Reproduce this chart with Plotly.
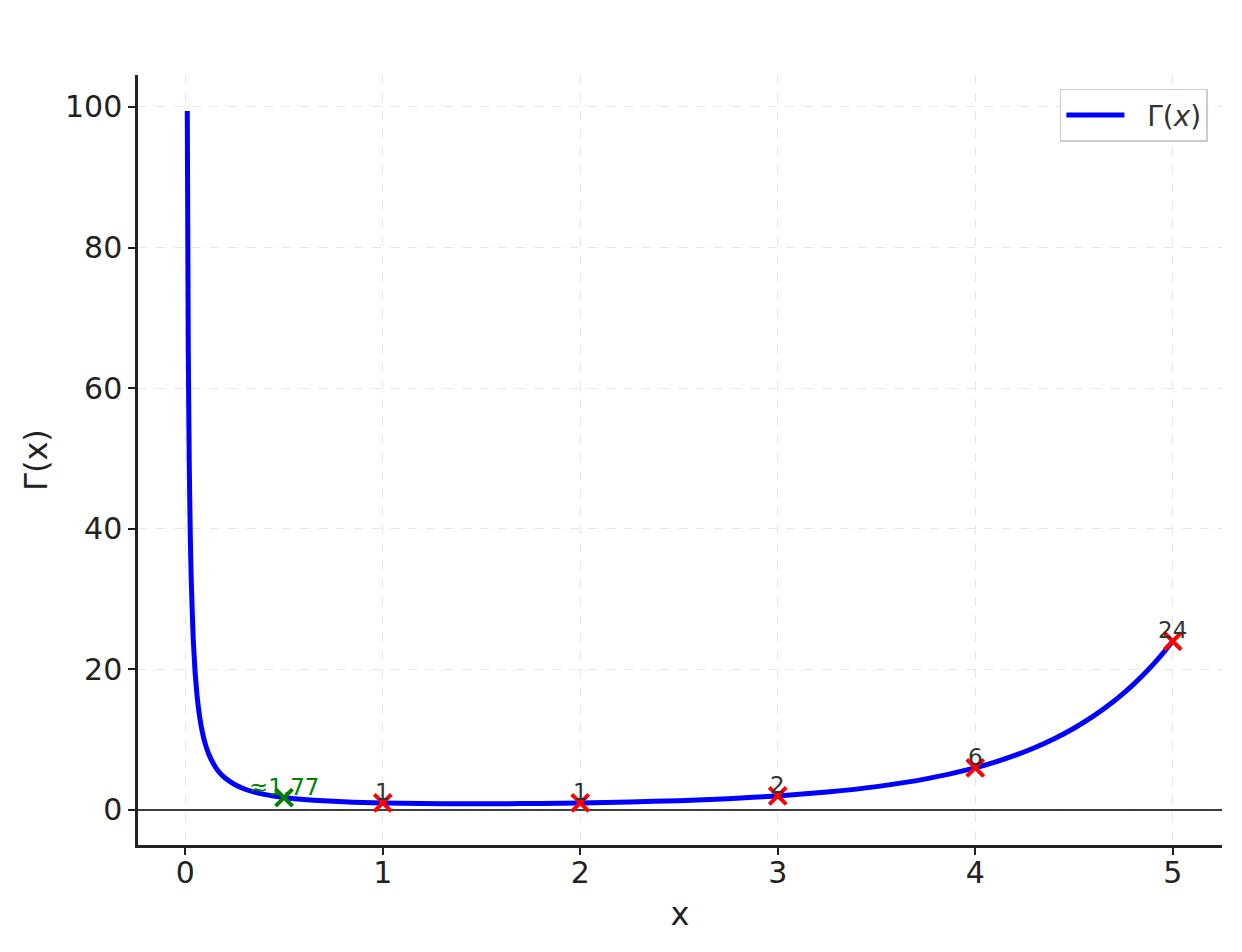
import plotly.graph_objects as go

# Gamma curve, values
curve_x = [0.01, 0.015, 0.02, 0.025, 0.03, 0.04, 0.05, 0.06, 0.07, 0.08, 0.09, 0.1, 0.12,
           0.15, 0.17, 0.2, 0.25, 0.3, 0.35,
           0.4, 0.5, 0.6, 0.7, 0.8, 0.9, 1.0, 1.2, 1.4, 1.5, 1.6, 1.8, 2.0,
           2.25, 2.5, 2.75, 3.0, 3.25, 3.5, 3.75, 4.0, 4.1, 4.2, 4.3, 4.4, 4.5,
           4.6, 4.7, 4.75, 4.8, 4.85, 4.9, 4.95, 5.0]
curve_y = [99.43, 66.09, 49.44, 39.45, 32.79, 24.46, 19.47, 16.15, 13.78, 12.00, 10.62, 9.51, 7.86,
           6.22, 5.43, 4.59, 3.63, 2.99, 2.55,
           2.22, 1.77, 1.49, 1.30, 1.16, 1.07, 1.00, 0.918, 0.887, 0.886, 0.894, 0.931, 1.00,
           1.133, 1.329, 1.608, 2.00, 2.549, 3.323, 4.423, 6.00, 6.81, 7.76, 8.86, 10.14, 11.63,
           13.38, 15.43, 16.59, 17.84, 19.19, 20.67, 22.27, 24.0]

int_x = [1, 2, 3, 4, 5]
int_y = [1, 1, 2, 6, 24]
int_labels = ["1", "1", "2", "6", "24"]

half_x = [0.5]
half_y = [1.77]
half_label = "≈1.77"

x_ticks = [0, 1, 2, 3, 4, 5]
y_ticks = [0, 20, 40, 60, 80, 100]
x_range = [-0.2395, 5.2495]
y_range = [-4.98, 104.55]

FONT = "DejaVu Sans"

fig = go.Figure()
# horizontal reference line at y = 0
fig.add_trace(go.Scatter(x=x_range, y=[0, 0], mode="lines", showlegend=False, hoverinfo="skip",
                         line=dict(color="black", width=1.3)))
fig.add_trace(go.Scatter(x=curve_x, y=curve_y, mode="lines", name="\u00a0\u00a0Γ(<i>x</i>)",
                         line=dict(color="#0000ff", width=5, shape="spline", smoothing=0.5)))
fig.add_trace(go.Scatter(x=int_x, y=int_y, mode="markers", showlegend=False,
                         marker=dict(symbol="x-thin", size=17, line=dict(color="#ff0000", width=4), color="#ff0000")))
fig.add_trace(go.Scatter(x=half_x, y=half_y, mode="markers", showlegend=False,
                         marker=dict(symbol="x-thin", size=17, line=dict(color="#008000", width=4), color="#008000")))

for xv, yv, lab in zip(int_x, int_y, int_labels):
    fig.add_annotation(x=xv, y=yv, text=lab, showarrow=False, xanchor="center", yanchor="bottom",
                       yshift=-4, font=dict(family=FONT, size=23, color="#333333"))
fig.add_annotation(x=half_x[0], y=half_y[0], text=half_label, showarrow=False, xanchor="center",
                   yanchor="bottom", yshift=-4, font=dict(family=FONT, size=23, color="#008000"))

fig.update_layout(
    width=1242, height=952,
    margin=dict(l=130, r=28, t=67, b=115),
    paper_bgcolor="white", plot_bgcolor="white",
    font=dict(family=FONT, color="#222222"),
    legend=dict(x=0.987, y=0.982, xanchor="right", yanchor="top",
                bordercolor="#cccccc", borderwidth=1.5, bgcolor="white", itemwidth=58,
                font=dict(family=FONT, size=28, color="#333333")),
    xaxis=dict(range=x_range, tickvals=x_ticks, ticks="outside", ticklen=7,
               tickwidth=2, tickcolor="#222222", showline=True, linecolor="#222222", linewidth=2.5,
               showgrid=True, gridcolor="#e6e6e6", griddash="dash", gridwidth=1, zeroline=False,
               ticklabelstandoff=-8,
               tickfont=dict(family=FONT, size=30, color="#222222"),
               title=dict(text="x", font=dict(family=FONT, size=32, color="#222222"), standoff=14)),
    yaxis=dict(range=y_range, tickvals=y_ticks, ticks="outside", ticklen=7,
               tickwidth=2, tickcolor="#222222", showline=True, linecolor="#222222", linewidth=2.5,
               showgrid=True, gridcolor="#e6e6e6", griddash="dash", gridwidth=1, zeroline=False,
               tickfont=dict(family=FONT, size=30, color="#222222"),
               title=dict(text="Γ(x)", font=dict(family=FONT, size=32, color="#222222"), standoff=8)),
)

fig.write_html("out.html")
